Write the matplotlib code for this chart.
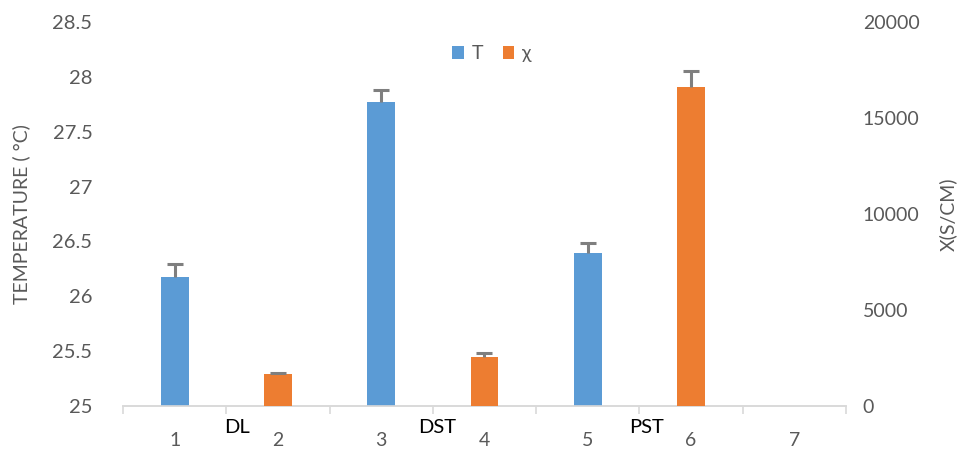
import numpy as np
import matplotlib.pyplot as plt

plt.rcParams['font.family'] = ['Lato', 'DejaVu Sans']

# categories on the x axis
categories = ['1', '2', '3', '4', '5', '6', '7']
group_labels = ['DL', 'DST', 'PST']

# temperature series (left axis), at categories 1, 3, 5
t_pos = [1, 3, 5]
t_vals = [26.18, 27.77, 26.39]
t_err = [0.11, 0.11, 0.10]

# conductivity series (right axis), at categories 2, 4, 6
chi_pos = [2, 4, 6]
chi_vals = [1650, 2570, 16600]
chi_err = [80, 190, 865]

blue = '#5B9BD5'
orange = '#ED7D31'
grey_txt = '#595959'
err_kw = dict(ecolor='#7F7F7F', elinewidth=2.2, capsize=5.5, capthick=2.2)

fig = plt.figure(figsize=(9.66, 4.5), dpi=100)
ax = fig.add_axes([0.1273, 0.0978, 0.7485, 0.8533])
ax2 = ax.twinx()

w = 0.27
b1 = ax.bar(t_pos, np.array(t_vals) - 25, bottom=25, width=w, color=blue,
            yerr=[np.zeros(3), t_err], error_kw=err_kw, label='T', zorder=3)
b2 = ax2.bar(chi_pos, chi_vals, width=w, color=orange,
             yerr=[np.zeros(3), chi_err], error_kw=err_kw, label='χ', zorder=3)
# only the upper whisker is shown, drop the lower caps
for bc in (b1, b2):
    bc.errorbar.lines[1][0].set_visible(False)

ax.set_xlim(0.5, 7.5)
ax.set_ylim(25, 28.5)
ax.set_yticks(np.arange(25, 28.51, 0.5))
ax.set_yticklabels(['25', '25.5', '26', '26.5', '27', '27.5', '28', '28.5'])
ax2.set_ylim(0, 20000)
ax2.set_yticks(np.arange(0, 20001, 5000))

# category boundaries get tick marks, labels sit in the middle
ax.set_xticks(np.arange(0.5, 7.6, 1))
ax.set_xticklabels([])
ax.set_xticks(np.arange(1, 8), minor=True)
ax.set_xticklabels(categories, minor=True)
ax.tick_params(axis='x', which='major', length=6, width=1.2, color='#D9D9D9')
ax.tick_params(axis='x', which='minor', length=0, pad=19, labelsize=14,
               labelcolor=grey_txt)
ax.tick_params(axis='y', length=0, pad=22, labelsize=14.5, labelcolor=grey_txt)
ax2.tick_params(axis='y', length=0, pad=12, labelsize=14, labelcolor=grey_txt)

for a in (ax, ax2):
    for s in ('top', 'left', 'right'):
        a.spines[s].set_visible(False)
    a.spines['bottom'].set_color('#D9D9D9')
    a.spines['bottom'].set_linewidth(1.2)

for x, lab in zip([1.6, 3.54, 5.57], group_labels):
    ax.text(x, 24.88, lab, ha='center', va='top', fontsize=14.5,
            color='black', clip_on=False)

ax.set_ylabel('TEMPERATURE ( °C)', fontsize=14, color=grey_txt, labelpad=16)
ax2.set_ylabel('X(S/CM)', fontsize=14, color=grey_txt, labelpad=14)

h1, l1 = ax.get_legend_handles_labels()
h2, l2 = ax2.get_legend_handles_labels()
ax.legend(h1 + h2, l1 + l2, loc='upper center', bbox_to_anchor=(0.51, 0.985),
          ncol=2, frameon=False, fontsize=14, handlelength=0.6,
          handleheight=0.6, handletextpad=0.4, columnspacing=1.0,
          labelcolor=grey_txt)

fig.savefig('out.png', dpi=100)
